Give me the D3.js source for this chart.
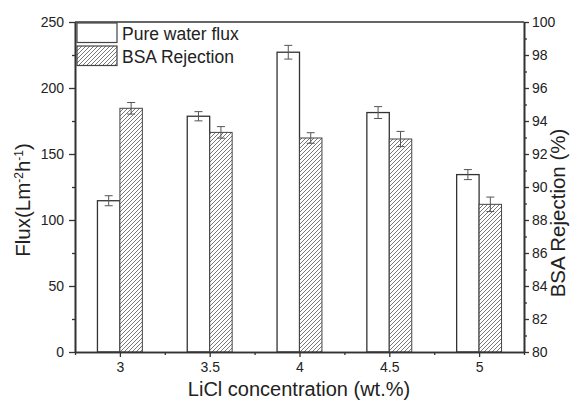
<!DOCTYPE html>
<html>
<head>
<meta charset="utf-8">
<script src="https://cdn.jsdelivr.net/npm/d3@7"></script>
<style>
  body { margin: 0; background: #fff; }
  text { font-family: "Liberation Sans", Arial, sans-serif; fill: #222; }
</style>
</head>
<body>
<div class="viz-container"></div>
<script>
// data
const concentrations = [3, 3.5, 4, 4.5, 5];
const xTickLabels = ["3", "3.5", "4", "4.5", "5"];
const fluxValues = [114.6, 178.6, 227.1, 181.4, 134.4];
const fluxErrors = [3.8, 3.5, 5.2, 4.5, 3.8];
const rejectionValues = [94.77, 93.31, 92.97, 92.91, 88.95];
const rejectionErrors = [0.35, 0.35, 0.32, 0.46, 0.44];
const leftTicks = [0, 50, 100, 150, 200, 250];
const rightTicks = [80, 82, 84, 86, 88, 90, 92, 94, 96, 98, 100];
const seriesNames = ["Pure water flux", "BSA Rejection"];

let viz = d3.select(".viz-container")
  .append("svg")
    .attr("width", 571)
    .attr("height", 401);

let defs = viz.append("defs");
let pat = defs.append("pattern")
    .attr("id", "hatch")
    .attr("patternUnits", "userSpaceOnUse")
    .attr("width", 4)
    .attr("height", 4);
pat.append("rect").attr("width", 4).attr("height", 4).attr("fill", "#fff");
pat.append("path")
    .attr("d", "M-1,1 l2,-2 M0,4 l4,-4 M3,5 l2,-2")
    .attr("stroke", "#555")
    .attr("stroke-width", 0.8);

let x = d3.scaleLinear().domain([2.75, 5.25]).range([75, 524]);
let yL = d3.scaleLinear().domain([0, 250]).range([352, 22]);
let yR = d3.scaleLinear().domain([80, 100]).range([352, 22]);
let barW = x(3.125) - x(3);

// bars
let groups = viz.selectAll(".datagroup").data(concentrations).enter()
  .append("g")
    .attr("class", "datagroup");

groups.append("rect")
    .attr("x", d => x(d) - barW)
    .attr("y", (d, i) => yL(fluxValues[i]))
    .attr("width", barW)
    .attr("height", (d, i) => yL(0) - yL(fluxValues[i]))
    .attr("fill", "#fff")
    .attr("stroke", "#333")
    .attr("stroke-width", 1.3);

groups.append("rect")
    .attr("x", d => x(d))
    .attr("y", (d, i) => yR(rejectionValues[i]))
    .attr("width", barW)
    .attr("height", (d, i) => yR(80) - yR(rejectionValues[i]))
    .attr("fill", "url(#hatch)")
    .attr("stroke", "#444")
    .attr("stroke-width", 1);

// error bars
function errBar(g, cx, yTop, yBot) {
  g.append("line").attr("x1", cx).attr("x2", cx).attr("y1", yTop).attr("y2", yBot);
  g.append("line").attr("x1", cx - 4).attr("x2", cx + 4).attr("y1", yTop).attr("y2", yTop);
  g.append("line").attr("x1", cx - 4).attr("x2", cx + 4).attr("y1", yBot).attr("y2", yBot);
}
groups.each(function(d, i) {
  let g = d3.select(this).append("g").attr("stroke", "#555").attr("stroke-width", 1);
  errBar(g, x(d) - barW / 2, yL(fluxValues[i] + fluxErrors[i]), yL(fluxValues[i] - fluxErrors[i]));
  errBar(g, x(d) + barW / 2, yR(rejectionValues[i] + rejectionErrors[i]), yR(rejectionValues[i] - rejectionErrors[i]));
});

// axes
function styleAxis(g) {
  g.selectAll(".domain").attr("stroke", "#333").attr("stroke-width", 1.6);
  g.selectAll(".tick line").attr("stroke", "#333").attr("stroke-width", 1.3);
  g.selectAll("text").attr("font-size", 14).attr("fill", "#222")
    .attr("font-family", "Liberation Sans, Arial, sans-serif");
}

let xMinor = [2.75, 3.25, 3.75, 4.25, 4.75, 5.25];
viz.append("g").attr("transform", "translate(0,352)")
  .call(d3.axisBottom(x).tickValues(xMinor).tickFormat("").tickSize(3).tickSizeOuter(0))
  .call(styleAxis);
viz.append("g").attr("transform", "translate(0,352)")
  .call(d3.axisBottom(x).tickValues(concentrations).tickFormat((d, i) => xTickLabels[i]).tickSize(5).tickPadding(5).tickSizeOuter(0))
  .call(styleAxis);

// top border
viz.append("line").attr("x1", 75).attr("x2", 524).attr("y1", 22).attr("y2", 22)
  .attr("stroke", "#333").attr("stroke-width", 1.6);

let leftMinor = d3.range(25, 250, 50);
viz.append("g").attr("transform", "translate(75,0)")
  .call(d3.axisLeft(yL).tickValues(leftMinor).tickFormat("").tickSize(3).tickSizeOuter(0))
  .call(styleAxis);
viz.append("g").attr("transform", "translate(75,0)")
  .call(d3.axisLeft(yL).tickValues(leftTicks).tickSize(6).tickPadding(5).tickSizeOuter(0))
  .call(styleAxis);

let rightMinor = d3.range(81, 100, 2);
viz.append("g").attr("transform", "translate(524,0)")
  .call(d3.axisRight(yR).tickValues(rightMinor).tickFormat("").tickSize(3).tickSizeOuter(0))
  .call(styleAxis);
viz.append("g").attr("transform", "translate(524,0)")
  .call(d3.axisRight(yR).tickValues(rightTicks).tickSize(5).tickPadding(3).tickSizeOuter(0))
  .call(styleAxis);

// axis titles
viz.append("text")
    .attr("x", 299).attr("y", 396)
    .attr("text-anchor", "middle")
    .attr("font-size", 20)
    .text("LiCl concentration (wt.%)");

let yt = viz.append("text")
    .attr("transform", "translate(30,200) rotate(-90)")
    .attr("text-anchor", "middle")
    .attr("font-size", 20.5);
yt.append("tspan").text("Flux(Lm");
yt.append("tspan").attr("font-size", 12).attr("baseline-shift", "7").text("-2");
yt.append("tspan").text("h");
yt.append("tspan").attr("font-size", 12).attr("baseline-shift", "7").text("-1");
yt.append("tspan").text(")");

viz.append("text")
    .attr("transform", "translate(565,213) rotate(-90)")
    .attr("text-anchor", "middle")
    .attr("font-size", 20.5)
    .text("BSA Rejection (%)");

// legend
let legend = viz.selectAll(".legend").data(seriesNames).enter()
  .append("g").attr("class", "legend");
legend.append("rect")
    .attr("x", 77).attr("y", (d, i) => 23 + i * 23)
    .attr("width", 40).attr("height", 19.5)
    .attr("fill", (d, i) => i == 0 ? "#fff" : "url(#hatch)")
    .attr("stroke", "#444").attr("stroke-width", 1.2);
legend.append("text")
    .attr("x", 122).attr("y", (d, i) => 39.5 + i * 23)
    .attr("font-size", 17.5)
    .text(d => d);
</script>
</body>
</html>
